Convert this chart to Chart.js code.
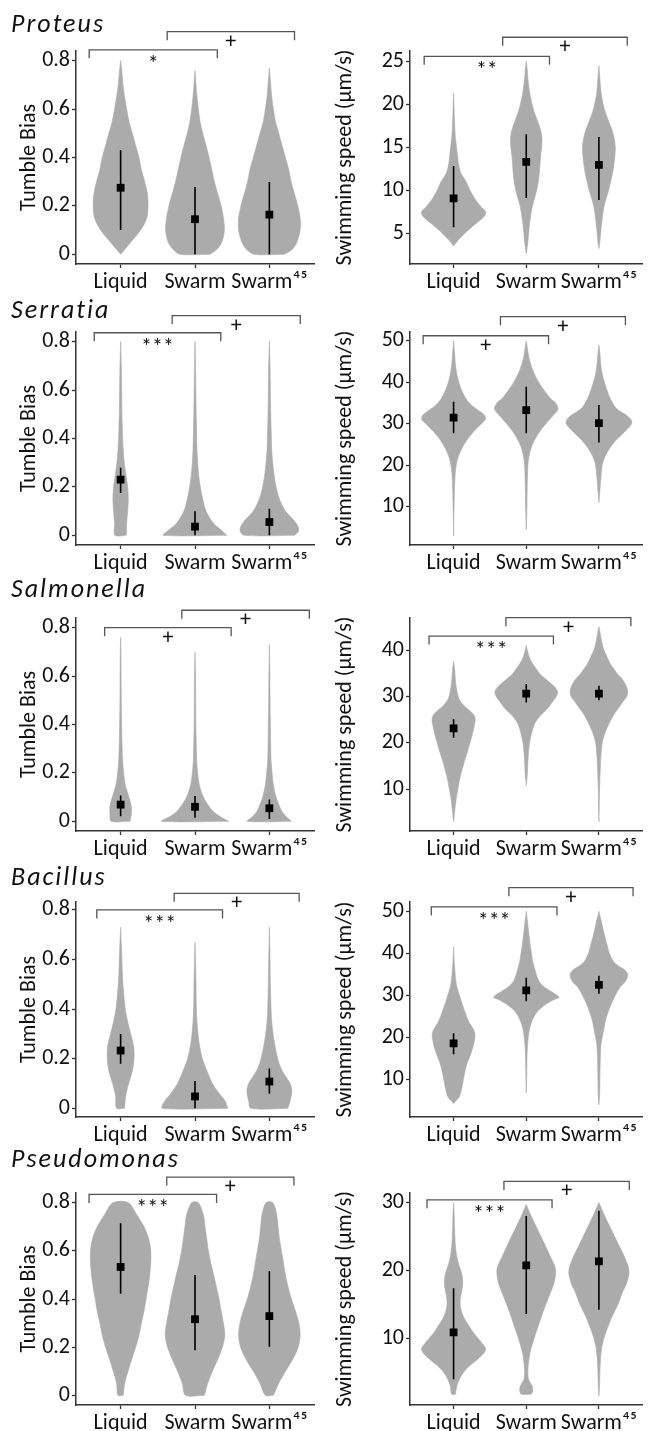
<!DOCTYPE html>
<html>
<head>
<meta charset="utf-8">
<script src="https://cdn.jsdelivr.net/npm/chart.js@4.4.1/dist/chart.umd.min.js"></script>
<style>
  html, body { margin: 0; padding: 0; background: #fff; overflow: hidden; }
  #page { position: relative; width: 648px; height: 1431px; }
  #page canvas { position: absolute; }
</style>
</head>
<body>
<div id="page"></div>
<script>
// ---- data ----
const groups = ["Liquid", "Swarm", "Swarm\u2074\u2075"];
const species = ["Proteus", "Serratia", "Salmonella", "Bacillus", "Pseudomonas"];

const biasTicks = [0, 0.2, 0.4, 0.6, 0.8];
const biasRange = [-0.04, 0.84];
const bacillusBiasRange = [-0.035, 0.832];

// violin profiles: [value, density] pairs (density 100 = full violin width)
const proteusBiasViolins = [
  [[0, 0], [0.02, 12], [0.05, 30], [0.1, 60], [0.15, 78], [0.2, 82], [0.25, 80], [0.3, 72], [0.35, 62], [0.4, 55], [0.45, 45], [0.5, 35], [0.55, 25], [0.6, 18], [0.65, 12], [0.7, 7], [0.75, 4], [0.8, 0]],
  [[0, 45], [0.02, 65], [0.05, 80], [0.1, 88], [0.15, 85], [0.2, 78], [0.25, 68], [0.3, 58], [0.35, 50], [0.4, 42], [0.45, 33], [0.5, 23], [0.55, 15], [0.6, 10], [0.65, 6], [0.7, 3], [0.76, 0]],
  [[0, 45], [0.02, 68], [0.05, 82], [0.1, 92], [0.15, 92], [0.2, 85], [0.25, 75], [0.3, 65], [0.35, 58], [0.4, 48], [0.45, 38], [0.5, 28], [0.55, 18], [0.6, 12], [0.65, 7], [0.7, 4], [0.77, 0]],
];
const proteusBiasMean = [0.275, 0.145, 0.164];
const proteusBiasLow = [0.1, 0, 0];
const proteusBiasHigh = [0.431, 0.278, 0.299];
const proteusBiasSig = [[0.577, 2.3, 0.845, "*"], [1.626, 3.338, 0.92, "+"]];

const proteusSpeedTicks = [5, 10, 15, 20, 25];
const proteusSpeedRange = [1.4, 26.2];
const proteusSpeedViolins = [
  [[3.5, 0], [4, 10], [5, 35], [6, 65], [7, 95], [7.5, 98], [8, 85], [9, 65], [10, 50], [11, 38], [12, 22], [13, 15], [14, 12], [15, 9], [16, 6], [17, 4], [18, 3], [19, 2], [21.3, 0]],
  [[2.6, 0], [4, 5], [6, 10], [8, 18], [9, 25], [10, 32], [11, 37], [12, 40], [13, 42], [14, 44], [15, 47], [16, 48], [17, 44], [18, 35], [19, 25], [20, 18], [21, 12], [22, 8], [23, 5], [24, 3], [25, 0]],
  [[3.2, 0], [4, 3], [6, 8], [8, 15], [9, 22], [10, 30], [11, 36], [12, 42], [13, 46], [14, 49], [15, 50], [16, 47], [17, 40], [18, 30], [19, 20], [20, 13], [21, 8], [22, 5], [23, 3], [24.5, 0]],
];
const proteusSpeedMean = [9.03, 13.28, 12.93];
const proteusSpeedLow = [5.67, 9.07, 8.84];
const proteusSpeedHigh = [12.8, 16.5, 16.18];
const proteusSpeedSig = [[0.595, 2.32, 25.58, "**"], [1.676, 3.39, 27.8, "+"]];

const serratiaBiasViolins = [
  [[0, 17], [0.05, 18], [0.1, 21], [0.15, 23], [0.2, 21], [0.25, 16], [0.3, 11], [0.35, 8], [0.4, 6], [0.45, 5], [0.5, 4], [0.6, 3], [0.7, 2], [0.8, 0]],
  [[0, 95], [0.02, 80], [0.05, 55], [0.1, 33], [0.15, 23], [0.2, 16], [0.25, 11], [0.3, 8], [0.35, 6], [0.4, 5], [0.5, 3.5], [0.6, 2.5], [0.7, 1.5], [0.8, 0]],
  [[0, 75], [0.02, 88], [0.05, 80], [0.1, 48], [0.15, 30], [0.2, 20], [0.25, 14], [0.3, 10], [0.35, 7], [0.4, 6], [0.5, 4], [0.6, 3], [0.7, 2], [0.8, 0]],
];
const serratiaBiasMean = [0.23, 0.036, 0.055];
const serratiaBiasLow = [0.175, 0, 0];
const serratiaBiasHigh = [0.279, 0.099, 0.11];
const serratiaBiasSig = [[0.645, 2.347, 0.837, "***"], [1.693, 3.415, 0.908, "+"]];

const serratiaSpeedTicks = [10, 20, 30, 40, 50];
const serratiaSpeedRange = [0.8, 52.1];
const serratiaSpeedViolins = [
  [[3, 0], [8, 1], [12, 2], [15, 3], [18, 5], [20, 8], [22, 14], [24, 25], [26, 40], [28, 60], [30, 85], [31, 97], [32, 95], [33, 80], [34, 62], [35, 48], [36, 38], [38, 25], [40, 16], [42, 10], [44, 6], [46, 4], [48, 2], [50, 0]],
  [[4.5, 0], [10, 2], [15, 3], [20, 5], [22, 8], [24, 14], [26, 25], [28, 40], [30, 60], [32, 82], [33.5, 97], [35, 90], [36, 75], [38, 55], [40, 38], [42, 25], [44, 15], [46, 8], [48, 4], [50, 0]],
  [[11, 0], [14, 3], [17, 6], [20, 10], [22, 18], [24, 32], [26, 52], [28, 78], [30, 100], [31, 98], [32, 85], [33, 65], [34, 50], [36, 35], [38, 25], [40, 17], [42, 10], [44, 6], [46, 4], [49, 0]],
];
const serratiaSpeedMean = [31.5, 33.3, 30.16];
const serratiaSpeedLow = [27.7, 27.7, 25.5];
const serratiaSpeedHigh = [35.3, 38.9, 34.5];
const serratiaSpeedSig = [[0.581, 2.307, 51.2, "+"], [1.645, 3.365, 55.8, "+"]];

const salmonellaBiasViolins = [
  [[0, 28], [0.03, 32], [0.06, 32], [0.1, 25], [0.15, 14], [0.2, 9], [0.25, 6], [0.3, 4.5], [0.4, 3], [0.5, 2], [0.6, 1.5], [0.7, 1], [0.76, 0]],
  [[0, 100], [0.02, 75], [0.04, 55], [0.07, 38], [0.1, 25], [0.15, 13], [0.2, 8], [0.25, 5], [0.3, 4], [0.4, 2.5], [0.5, 2], [0.6, 1.5], [0.7, 0]],
  [[0, 66], [0.02, 50], [0.04, 38], [0.07, 28], [0.1, 20], [0.15, 12], [0.2, 8], [0.25, 5], [0.3, 4], [0.4, 3], [0.5, 2], [0.6, 1.5], [0.73, 0]],
];
const salmonellaBiasMean = [0.069, 0.06, 0.054];
const salmonellaBiasLow = [0.021, 0.015, 0.01];
const salmonellaBiasHigh = [0.107, 0.105, 0.09];
const salmonellaBiasSig = [[0.785, 2.486, 0.8, "+"], [1.823, 3.537, 0.872, "+"]];

const salmonellaSpeedTicks = [10, 20, 30, 40];
const salmonellaSpeedRange = [1.0, 46.9];
const salmonellaSpeedViolins = [
  [[3, 0], [5, 3], [8, 8], [10, 13], [12, 18], [14, 25], [16, 33], [18, 42], [20, 50], [22, 58], [24, 64], [25, 66], [26, 62], [27, 48], [28, 32], [29, 20], [30, 14], [32, 8], [34, 5], [36, 3], [37.5, 0]],
  [[10.8, 0], [13, 3], [16, 5], [18, 7], [20, 10], [22, 16], [24, 25], [25, 33], [26, 45], [27, 60], [28, 72], [29, 82], [30, 92], [31, 96], [32, 88], [33, 72], [34, 55], [35, 40], [36, 30], [37, 20], [38, 12], [39, 7], [40, 3], [41, 0]],
  [[3, 0], [6, 1], [10, 2], [14, 4], [17, 6], [20, 10], [22, 18], [24, 30], [26, 45], [27, 55], [28, 65], [29, 75], [30, 85], [31, 88], [32, 85], [33, 78], [34, 68], [35, 55], [36, 45], [37, 35], [38, 28], [39, 22], [40, 15], [42, 8], [44, 3], [45, 0]],
];
const salmonellaSpeedMean = [23.1, 30.6, 30.6];
const salmonellaSpeedLow = [21.1, 28.7, 29.2];
const salmonellaSpeedHigh = [25.1, 32.7, 32.3];
const salmonellaSpeedSig = [[0.662, 2.374, 43.0, "***"], [1.72, 3.44, 46.98, "+"]];

const bacillusBiasViolins = [
  [[0, 12], [0.05, 15], [0.1, 24], [0.15, 35], [0.2, 40], [0.25, 39], [0.3, 30], [0.35, 21], [0.4, 14], [0.45, 10], [0.5, 7], [0.55, 5], [0.6, 4], [0.65, 2.5], [0.73, 0]],
  [[0, 98], [0.03, 90], [0.06, 72], [0.1, 52], [0.15, 36], [0.2, 22], [0.25, 14], [0.3, 9], [0.35, 6], [0.4, 4], [0.5, 3], [0.6, 1.5], [0.67, 0]],
  [[0, 55], [0.03, 62], [0.07, 67], [0.1, 62], [0.13, 48], [0.16, 35], [0.2, 25], [0.25, 17], [0.3, 11], [0.35, 7], [0.4, 5], [0.5, 3], [0.6, 2], [0.73, 0]],
];
const bacillusBiasMean = [0.233, 0.048, 0.108];
const bacillusBiasLow = [0.18, 0, 0.059];
const bacillusBiasHigh = [0.3, 0.11, 0.161];
const bacillusBiasSig = [[0.68, 2.37, 0.8, "***"], [1.72, 3.4, 0.867, "+"]];

const bacillusSpeedTicks = [10, 20, 30, 40, 50];
const bacillusSpeedRange = [1.1, 52.2];
const bacillusSpeedViolins = [
  [[4.3, 0], [5, 8], [6, 18], [8, 25], [10, 30], [12, 35], [14, 42], [16, 52], [18, 60], [20, 65], [21, 65], [22, 60], [23, 52], [24, 45], [26, 35], [28, 26], [30, 18], [32, 10], [34, 6], [36, 4], [38, 2], [41.5, 0]],
  [[6.8, 0], [10, 1], [14, 2], [17, 3], [20, 6], [22, 10], [24, 18], [26, 32], [27, 45], [28, 62], [29, 85], [29.5, 100], [30, 95], [31, 75], [32, 55], [33, 42], [34, 35], [36, 27], [38, 20], [40, 16], [42, 12], [44, 9], [46, 6], [48, 3], [50, 0]],
  [[4, 0], [6, 2], [10, 3], [14, 4], [18, 6], [20, 10], [22, 15], [24, 20], [26, 28], [28, 38], [30, 50], [32, 65], [33, 78], [34, 86], [35, 88], [36, 80], [37, 60], [38, 45], [40, 32], [42, 25], [44, 18], [46, 12], [48, 6], [50, 0]],
];
const bacillusSpeedMean = [18.6, 31.2, 32.5];
const bacillusSpeedLow = [16.0, 28.6, 30.4];
const bacillusSpeedHigh = [21.0, 34.2, 34.7];
const bacillusSpeedSig = [[0.693, 2.423, 51.04, "***"], [1.761, 3.47, 55.6, "+"]];

const pseudomonasBiasViolins = [
  [[0, 8], [0.05, 12], [0.1, 22], [0.15, 33], [0.2, 45], [0.25, 55], [0.3, 62], [0.35, 70], [0.4, 76], [0.45, 82], [0.5, 87], [0.55, 90], [0.6, 90], [0.65, 84], [0.7, 70], [0.75, 48], [0.8, 23]],
  [[0, 28], [0.05, 38], [0.1, 52], [0.15, 68], [0.2, 82], [0.25, 89], [0.3, 85], [0.35, 78], [0.4, 72], [0.45, 64], [0.5, 56], [0.55, 47], [0.6, 40], [0.65, 35], [0.7, 30], [0.75, 25], [0.8, 10]],
  [[0, 12], [0.05, 28], [0.1, 48], [0.15, 70], [0.2, 86], [0.25, 92], [0.3, 88], [0.35, 78], [0.4, 66], [0.45, 56], [0.5, 48], [0.55, 42], [0.6, 36], [0.65, 30], [0.7, 26], [0.75, 22], [0.8, 10]],
];
const pseudomonasBiasMean = [0.533, 0.316, 0.329];
const pseudomonasBiasLow = [0.422, 0.187, 0.202];
const pseudomonasBiasHigh = [0.714, 0.5, 0.516];
const pseudomonasBiasSig = [[0.575, 2.29, 0.834, "***"], [1.62, 3.33, 0.906, "+"]];

const pseudomonasSpeedTicks = [10, 20, 30];
const pseudomonasSpeedRange = [0.2, 31.4];
const pseudomonasSpeedViolins = [
  [[1.8, 6], [3, 10], [4, 18], [5, 30], [6, 50], [7, 75], [8, 95], [8.5, 98], [9, 92], [10, 75], [11, 58], [12, 45], [13, 32], [14, 24], [15, 20], [16, 21], [17, 25], [18, 28], [19, 27], [20, 22], [21, 15], [22, 10], [23, 7], [24, 5], [26, 3], [28, 2], [30, 0]],
  [[1.8, 15], [2.3, 20], [3, 18], [4, 7], [5, 5], [6, 6], [8, 12], [10, 24], [12, 38], [14, 52], [16, 68], [18, 84], [19.5, 90], [20.5, 88], [22, 74], [24, 55], [26, 35], [28, 15], [29.7, 0]],
  [[1.5, 0], [3, 2], [5, 3], [7, 5], [9, 10], [11, 22], [12, 30], [13, 38], [14, 48], [15, 58], [16, 66], [17, 74], [18, 84], [19.5, 92], [20.5, 90], [22, 78], [24, 58], [26, 38], [28, 18], [30, 0]],
];
const pseudomonasSpeedMean = [10.9, 20.76, 21.35];
const pseudomonasSpeedLow = [4.0, 13.6, 14.2];
const pseudomonasSpeedHigh = [17.4, 28.0, 28.8];
const pseudomonasSpeedSig = [[0.634, 2.355, 30.4, "***"], [1.693, 3.418, 33.1, "+"]];

// ---- layout ----
const FONT = 'Carlito, Lato, "Open Sans", sans-serif';
const FONT_SIZE = 22;
const VIOLIN = "#ababab";
const INK = "#111";
const AXIS = "#333";
const HALF_WIDTH_PER_DENSITY = 0.45 / 100;
const TOP_PAD = 50;
const BOTTOM_SPACE = 40;
const rowBoxes = [[51, 264], [332, 545], [618, 831], [902, 1117], [1193, 1405]];
const titleBaselines = [31.7, 318.3, 597.3, 885, 1166.7];
const colBoxes = [
  { left: 0, axis: 76, right: 314, titlePad: 16 },
  { left: 324, axis: 410, right: 647, titlePad: 8 },
];

const panels = [
  { row: 0, col: 0, label: "Tumble Bias", range: biasRange, ticks: biasTicks, violins: proteusBiasViolins, mean: proteusBiasMean, low: proteusBiasLow, high: proteusBiasHigh, sig: proteusBiasSig },
  { row: 0, col: 1, label: "Swimming speed (\u00b5m/s)", range: proteusSpeedRange, ticks: proteusSpeedTicks, violins: proteusSpeedViolins, mean: proteusSpeedMean, low: proteusSpeedLow, high: proteusSpeedHigh, sig: proteusSpeedSig },
  { row: 1, col: 0, label: "Tumble Bias", range: biasRange, ticks: biasTicks, violins: serratiaBiasViolins, mean: serratiaBiasMean, low: serratiaBiasLow, high: serratiaBiasHigh, sig: serratiaBiasSig },
  { row: 1, col: 1, label: "Swimming speed (\u00b5m/s)", range: serratiaSpeedRange, ticks: serratiaSpeedTicks, violins: serratiaSpeedViolins, mean: serratiaSpeedMean, low: serratiaSpeedLow, high: serratiaSpeedHigh, sig: serratiaSpeedSig },
  { row: 2, col: 0, label: "Tumble Bias", range: biasRange, ticks: biasTicks, violins: salmonellaBiasViolins, mean: salmonellaBiasMean, low: salmonellaBiasLow, high: salmonellaBiasHigh, sig: salmonellaBiasSig },
  { row: 2, col: 1, label: "Swimming speed (\u00b5m/s)", range: salmonellaSpeedRange, ticks: salmonellaSpeedTicks, violins: salmonellaSpeedViolins, mean: salmonellaSpeedMean, low: salmonellaSpeedLow, high: salmonellaSpeedHigh, sig: salmonellaSpeedSig },
  { row: 3, col: 0, label: "Tumble Bias", range: bacillusBiasRange, ticks: biasTicks, violins: bacillusBiasViolins, mean: bacillusBiasMean, low: bacillusBiasLow, high: bacillusBiasHigh, sig: bacillusBiasSig },
  { row: 3, col: 1, label: "Swimming speed (\u00b5m/s)", range: bacillusSpeedRange, ticks: bacillusSpeedTicks, violins: bacillusSpeedViolins, mean: bacillusSpeedMean, low: bacillusSpeedLow, high: bacillusSpeedHigh, sig: bacillusSpeedSig },
  { row: 4, col: 0, label: "Tumble Bias", range: biasRange, ticks: biasTicks, violins: pseudomonasBiasViolins, mean: pseudomonasBiasMean, low: pseudomonasBiasLow, high: pseudomonasBiasHigh, sig: pseudomonasBiasSig },
  { row: 4, col: 1, label: "Swimming speed (\u00b5m/s)", range: pseudomonasSpeedRange, ticks: pseudomonasSpeedTicks, violins: pseudomonasSpeedViolins, mean: pseudomonasSpeedMean, low: pseudomonasSpeedLow, high: pseudomonasSpeedHigh, sig: pseudomonasSpeedSig },
];

const page = document.getElementById("page");

// closed outline: up the right side, back down the left side
const violinOutline = (center, profile) => {
  const right = profile.map(([y, d]) => ({ x: center + d * HALF_WIDTH_PER_DENSITY, y }));
  const left = profile.slice().reverse().map(([y, d]) => ({ x: center - d * HALF_WIDTH_PER_DENSITY, y }));
  return right.concat(left, [right[0]]);
};

// significance brackets + species name (left column only)
const annotatePlugin = (p) => ({
  id: "annotate",
  afterDraw(chart) {
    const { ctx, scales: { x, y }, chartArea } = chart;
    ctx.save();
    p.sig.forEach(([from, to, level, label]) => {
      const x0 = x.getPixelForValue(from);
      const x1 = x.getPixelForValue(to);
      const yy = y.getPixelForValue(level);
      ctx.strokeStyle = "#555";
      ctx.lineWidth = 1.3;
      ctx.beginPath();
      ctx.moveTo(x0, yy + 8.5);
      ctx.lineTo(x0, yy);
      ctx.lineTo(x1, yy);
      ctx.lineTo(x1, yy + 8.5);
      ctx.stroke();
      ctx.font = "22px " + FONT;
      ctx.fillStyle = INK;
      ctx.textAlign = "center";
      ctx.textBaseline = "alphabetic";
      const m = ctx.measureText(label);
      const cy = yy + 8.5;
      ctx.fillText(label, (x0 + x1) / 2, cy + (m.actualBoundingBoxAscent - m.actualBoundingBoxDescent) / 2);
    });
    if (p.col === 0) {
      const [top] = rowBoxes[p.row];
      ctx.font = "italic 26px " + FONT;
      ctx.letterSpacing = "2px";
      ctx.fillStyle = INK;
      ctx.textAlign = "left";
      ctx.textBaseline = "alphabetic";
      ctx.fillText(species[p.row], 11, chartArea.top + titleBaselines[p.row] - top);
    }
    ctx.restore();
  },
});

const axisStyle = {
  grid: { drawOnChartArea: false, drawTicks: true, tickLength: 4, tickColor: AXIS, tickWidth: 1.3 },
  border: { display: true, color: AXIS, width: 1.5 },
};

panels.forEach((p) => {
  const [top, bottom] = rowBoxes[p.row];
  const col = colBoxes[p.col];
  const h = TOP_PAD + (bottom - top) + BOTTOM_SPACE;
  const canvas = document.createElement("canvas");
  canvas.width = 324;
  canvas.height = h;
  canvas.style.left = col.left + "px";
  canvas.style.top = (top - TOP_PAD) + "px";
  canvas.style.width = "324px";
  canvas.style.height = h + "px";
  page.appendChild(canvas);

  const violinSets = p.violins.map((profile, i) => ({
    data: violinOutline(i + 1, profile),
    fill: "shape",
    backgroundColor: VIOLIN,
    borderColor: VIOLIN,
    borderWidth: 0.6,
    pointRadius: 0,
    tension: 0.3,
    order: 2,
  }));

  const barData = [];
  p.mean.forEach((m, i) => {
    barData.push({ x: i + 1, y: p.low[i] }, { x: i + 1, y: p.high[i] }, { x: i + 1.5, y: null });
  });

  new Chart(canvas, {
    type: "line",
    data: {
      datasets: [
        {
          data: p.mean.map((m, i) => ({ x: i + 1, y: m })),
          showLine: false,
          pointStyle: "rect",
          pointRadius: 5.5,
          pointBackgroundColor: "#000",
          pointBorderColor: "#000",
          pointBorderWidth: 0,
          order: 0,
        },
        {
          data: barData,
          borderColor: "#000",
          borderWidth: 1.6,
          pointRadius: 0,
          tension: 0,
          order: 1,
        },
        ...violinSets,
      ],
    },
    options: {
      responsive: false,
      devicePixelRatio: 1,
      animation: false,
      events: [],
      layout: { padding: { top: TOP_PAD, left: 0, right: col.left + 324 - col.right, bottom: 0 } },
      plugins: { legend: { display: false }, tooltip: { enabled: false } },
      scales: {
        x: {
          type: "linear",
          min: 0.4,
          max: 3.6,
          afterBuildTicks: (s) => { s.ticks = groups.map((g, i) => ({ value: i + 1 })); },
          afterFit: (s) => { s.height = BOTTOM_SPACE; },
          ticks: { autoSkip: false, maxRotation: 0, padding: 1, color: INK, font: { family: FONT, size: FONT_SIZE }, callback: (v) => groups[v - 1] },
          ...axisStyle,
        },
        y: {
          type: "linear",
          min: p.range[0],
          max: p.range[1],
          afterBuildTicks: (s) => { s.ticks = p.ticks.map((v) => ({ value: v })); },
          afterFit: (s) => { s.width = col.axis - col.left; },
          ticks: { padding: 2, color: INK, font: { family: FONT, size: FONT_SIZE }, callback: (v) => String(v) },
          title: { display: true, text: p.label, color: INK, font: { family: FONT, size: FONT_SIZE }, padding: { top: col.titlePad, bottom: 0 } },
          ...axisStyle,
        },
      },
    },
    plugins: [annotatePlugin(p)],
  });
});
</script>
</body>
</html>
